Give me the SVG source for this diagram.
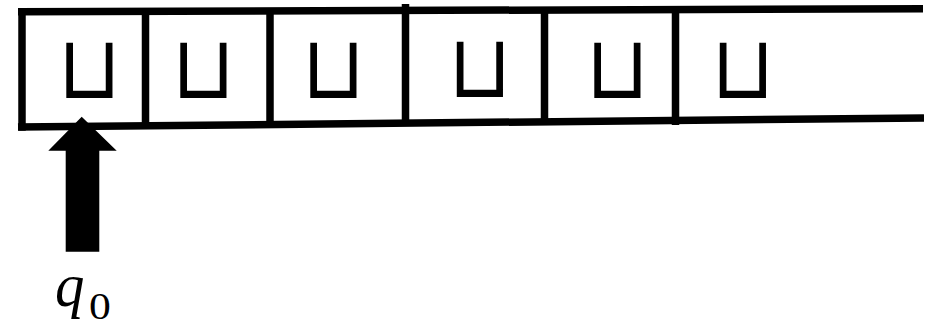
<svg xmlns="http://www.w3.org/2000/svg" width="938" height="325" viewBox="0 0 938 325">
<style>
.ln{stroke:#000;stroke-width:7.5;fill:none;stroke-linecap:butt}
.blank{font-family:"DejaVu Sans",sans-serif;font-size:81px;fill:#000;text-anchor:middle}
.lbl{font-family:"Liberation Serif",serif;fill:#000}
</style>
<rect width="938" height="325" fill="#fff"/>
<g id="tape">
<path class="ln" d="M18,11.7 L923,8.8"/>
<path class="ln" d="M18,127 L924,118"/>
<path class="ln" d="M22,8 V130.7"/>
<path class="ln" d="M145.5,10.5 V126"/>
<path class="ln" d="M270,10 V125"/>
<path class="ln" d="M405.5,4 V124"/>
<path class="ln" d="M544.5,9 V122.5"/>
<path class="ln" d="M675.5,8.5 V125"/>
</g>
<g id="cells">
<text class="blank" transform="translate(89,98) scale(1,1.09)">⊔</text>
<text class="blank" transform="translate(203,98) scale(1,1.09)">⊔</text>
<text class="blank" transform="translate(333,98) scale(1,1.09)">⊔</text>
<text class="blank" transform="translate(479.5,97) scale(1,1.09)">⊔</text>
<text class="blank" transform="translate(617,98) scale(1,1.09)">⊔</text>
<text class="blank" transform="translate(742.5,98) scale(1,1.09)">⊔</text>
</g>
<g id="head">
<polygon points="81.7,116.7 116.7,150.7 99.3,150.7 99.3,251.7 65.7,251.7 65.7,150.7 48.3,150.7" fill="#000"/>
</g>
<g id="state">
<text class="lbl" transform="translate(55,306) scale(1.05,1.08)" font-size="56" font-style="italic">q</text>
<text class="lbl" transform="translate(89,319) scale(1.15,1)" font-size="38">0</text>
</g>
</svg>
